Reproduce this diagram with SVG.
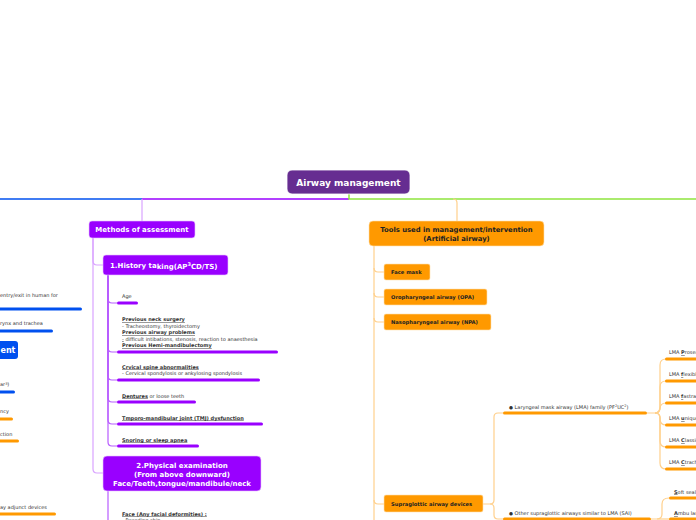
<svg xmlns="http://www.w3.org/2000/svg" width="696" height="520" viewBox="0 0 696 520">
<style>
text{font-family:"DejaVu Sans","Liberation Sans",sans-serif}
.t{font-size:5px;fill:#333}
.b{font-weight:bold;text-decoration:underline}
.nw{font-size:7px;font-weight:bold;fill:#fff}
.nk{font-size:5.2px;font-weight:bold;fill:#222}
.nt{font-size:6.8px;font-weight:bold;fill:#222}
.pb{fill:#9900ff}
.ob{fill:#ff9900}
.bb{fill:#0050ef}
.lp{fill:none;stroke:#d9a3ff;stroke-width:1.2}
.dp{fill:none;stroke:#b85cff;stroke-width:1.2}
.lo{fill:none;stroke:#ffd08c;stroke-width:1.2}
</style>
<rect width="696" height="520" fill="#fff"/>
<g id="connectors">
<path d="M142 199H0" fill="none" stroke="#0050ef" stroke-width="1.5"/>
<path d="M349 199H142" fill="none" stroke="#9900ff" stroke-width="1.5"/>
<path d="M349 194V199H696" fill="none" stroke="#8ee53f" stroke-width="1.5"/>
<path class="lp" d="M142 199V221"/>
<path class="lo" d="M453 199Q457 199 457 203V221"/>
<path class="lp" d="M93 238V261Q93 265 97 265H103"/>
<path class="lp" d="M93 238V469Q93 473 97 473H103"/>
<path class="dp" d="M108 275V299Q108 303 112 303H117"/>
<path class="dp" d="M108 275V348Q108 352 112 352H117"/>
<path class="dp" d="M108 275V376Q108 380 112 380H117"/>
<path class="dp" d="M108 275V398Q108 402 112 402H117"/>
<path class="dp" d="M108 275V420Q108 424 112 424H117"/>
<path class="dp" d="M108 275V442Q108 446 112 446H117"/>
<path class="dp" d="M108 491V520"/>
<path class="lo" d="M374 246V520"/>
<path class="lo" d="M374 268Q374 272 378 272H384"/>
<path class="lo" d="M374 293Q374 297 378 297H384"/>
<path class="lo" d="M374 318Q374 322 378 322H384"/>
<path class="lo" d="M374 500Q374 504 378 504H384"/>
<path class="lo" d="M483 504H490Q494 504 494 500V417Q494 413 498 413H503"/>
<path class="lo" d="M490 504Q494 504 494 508V515Q494 519 498 519H503"/>
<path class="lo" d="M647 413H655Q660 413 660 407V365Q660 359 666 359"/>
<path class="lo" d="M655 413Q660 413 660 407V387Q660 381 666 381"/>
<path class="lo" d="M655 413Q660 413 660 408V409Q660 403 666 403"/>
<path class="lo" d="M655 413Q660 413 660 418V419Q660 425 666 425"/>
<path class="lo" d="M655 413Q660 413 660 418V441Q660 447 666 447"/>
<path class="lo" d="M655 413Q660 413 660 418V463Q660 469 666 469"/>
<path class="lo" d="M651 519H657Q662 519 662 514V504Q662 498 669 498"/>
<path class="lo" d="M657 519H669"/>
</g>
<g id="root">
<rect x="287" y="170" width="123" height="24" rx="5" fill="#662d91" stroke="#fff" stroke-width="0.8"/>
<text x="348.5" y="185.5" text-anchor="middle" font-size="9" font-weight="bold" fill="#fff">Airway management</text>
</g>
<g id="left-branch">
<text class="t" x="0" y="297">entry/exit in human for</text>
<rect class="bb" x="-2" y="307.5" width="84" height="3" rx="1.5"/>
<text class="t" x="0" y="325">rynx and trachea</text>
<rect class="bb" x="-2" y="329.5" width="55" height="3" rx="1.5"/>
<rect x="-6" y="341" width="24" height="18" rx="3" fill="#0050ef"/>
<text x="0.5" y="353" font-size="8" font-weight="bold" fill="#fff">ent</text>
<text class="t" x="0" y="386">ar<tspan font-size="3.5" dy="-1.5">3</tspan><tspan dy="1.5">)</tspan></text>
<rect class="bb" x="-2" y="390.5" width="17" height="3" rx="1.5"/>
<text class="t" x="0" y="413">ncy</text>
<rect class="ob" x="-2" y="417.5" width="15" height="3" rx="1.5"/>
<text class="t" x="0" y="436">ction</text>
<rect class="ob" x="-2" y="439.5" width="21" height="3" rx="1.5"/>
<text class="t" x="0" y="509">ay adjunct devices</text>
<rect class="ob" x="-2" y="512.5" width="58" height="3" rx="1.5"/>
</g>
<g id="methods">
<rect x="89" y="221" width="106" height="17" rx="3" fill="#9900ff" stroke="#e8c4ff" stroke-width="0.6"/>
<text class="nw" x="142" y="232" text-anchor="middle">Methods of assessment</text>
</g>
<g id="history">
<rect x="103" y="255" width="125" height="20" rx="3" fill="#9900ff" stroke="#e8c4ff" stroke-width="0.6"/>
<text class="nw" x="110" y="268">1.History ta<tspan dy="1">king(AP</tspan><tspan font-size="5" dy="-3">3</tspan><tspan dy="3">CD/TS)</tspan></text>
</g>
<g id="hist-items">
<text class="t" x="122" y="298">Age</text>
<rect class="pb" x="117" y="301.5" width="21" height="3" rx="1.5"/>
<text class="t b" x="122" y="321">Previous neck surgery</text>
<text class="t" x="122" y="327.5">- Tracheostomy, thyroidectomy</text>
<text class="t b" x="122" y="334">Previous airway problems</text>
<text class="t" x="122" y="340.5"><tspan text-decoration="underline">-</tspan> difficult intibations, stenosis, reaction to anaesthesia</text>
<text class="t b" x="122" y="347">Previous Hemi-mandibulectomy</text>
<rect class="pb" x="117" y="350.5" width="161" height="3" rx="1.5"/>
<text class="t b" x="122" y="368.5">Crvical spine abnormalities</text>
<text class="t" x="122" y="375">- Cervical spondylosis or ankylosing spondylosis</text>
<rect class="pb" x="117" y="378.5" width="143" height="3" rx="1.5"/>
<text class="t" x="122" y="397.5"><tspan class="b">Dentures</tspan> or loose teeth</text>
<rect class="pb" x="117" y="400.5" width="79" height="3" rx="1.5"/>
<text class="t b" x="122" y="419.5">Tmporo-mandibular joint (TMJ) dysfunction</text>
<rect class="pb" x="117" y="422.5" width="146" height="3" rx="1.5"/>
<text class="t b" x="122" y="441.5">Snoring or sleep apnea</text>
<rect class="pb" x="117" y="444.5" width="82" height="3" rx="1.5"/>
</g>
<g id="physical">
<rect x="103" y="456" width="158" height="35" rx="4" fill="#9900ff" stroke="#e8c4ff" stroke-width="0.6"/>
<text class="nw" x="182" y="467.5" text-anchor="middle">2.Physical examination</text>
<text class="nw" x="182" y="476.5" text-anchor="middle">(From above downward)</text>
<text class="nw" x="182" y="485.5" text-anchor="middle">Face/Teeth,tongue/mandibule/neck</text>
</g>
<g id="phys-items">
<text class="t b" x="122" y="515.5">Face (Any facial deformities) :</text>
<text class="t" x="122" y="522">- Receding chin</text>
</g>
<g id="tools">
<rect x="369" y="221" width="175" height="25" rx="4" fill="#ff9900" stroke="#ffe0b0" stroke-width="0.6"/>
<text class="nt" x="456.5" y="232" text-anchor="middle">Tools used in  management/intervention</text>
<text class="nt" x="456.5" y="241" text-anchor="middle">(Artificial airway)</text>
</g>
<g id="face-mask">
<rect x="384" y="264" width="46" height="16" rx="2" fill="#ff9900" stroke="#ffe0b0" stroke-width="0.6"/>
<text class="nk" x="391" y="274">Face mask</text>
</g>
<g id="opa">
<rect x="384" y="289" width="103" height="16" rx="2" fill="#ff9900" stroke="#ffe0b0" stroke-width="0.6"/>
<text class="nk" x="391" y="299">Oropharyngeal airway (OPA)</text>
</g>
<g id="npa">
<rect x="384" y="314" width="107" height="16" rx="2" fill="#ff9900" stroke="#ffe0b0" stroke-width="0.6"/>
<text class="nk" x="391" y="324">Nasopharyngeal airway (NPA)</text>
</g>
<g id="supraglottic">
<rect x="384" y="495" width="99" height="17" rx="2" fill="#ff9900" stroke="#ffe0b0" stroke-width="0.6"/>
<text class="nk" x="391" y="506">Supraglottic airway devices</text>
</g>
<g id="lma">
<text class="t" x="509" y="409"><tspan font-size="4.5">●</tspan> Laryngeal mask airway (LMA) family (PF<tspan font-size="3.5" dy="-2">2</tspan><tspan dy="2">UC</tspan><tspan font-size="3.5" dy="-2">2</tspan><tspan dy="2">)</tspan></text>
<rect class="ob" x="503" y="411.5" width="144" height="3" rx="1.5"/>
<text class="t" x="509" y="515"><tspan font-size="4.5">●</tspan> Other supraglottic airways similar to LMA (SAI)</text>
<rect class="ob" x="503" y="517.5" width="148" height="3" rx="1.5"/>
</g>
<g id="lma-items">
<text class="t" x="669" y="354">LMA <tspan class="b">P</tspan>roseal</text>
<rect class="ob" x="665" y="357.5" width="35" height="3" rx="1.5"/>
<text class="t" x="669" y="376">LMA <tspan class="b">f</tspan>lexible</text>
<rect class="ob" x="665" y="379.5" width="35" height="3" rx="1.5"/>
<text class="t" x="669" y="398">LMA <tspan class="b">f</tspan>astrach</text>
<rect class="ob" x="665" y="401.5" width="35" height="3" rx="1.5"/>
<text class="t" x="669" y="420">LMA <tspan class="b">u</tspan>nique</text>
<rect class="ob" x="665" y="423.5" width="35" height="3" rx="1.5"/>
<text class="t" x="669" y="442">LMA <tspan class="b">C</tspan>lassic</text>
<rect class="ob" x="665" y="445.5" width="35" height="3" rx="1.5"/>
<text class="t" x="669" y="464">LMA <tspan class="b">C</tspan>trach</text>
<rect class="ob" x="665" y="467.5" width="35" height="3" rx="1.5"/>
</g>
<g id="sai-items">
<text class="t" x="674" y="493.5"><tspan class="b">S</tspan>oft seal</text>
<rect class="ob" x="669" y="496.5" width="31" height="3" rx="1.5"/>
<text class="t" x="674" y="515"><tspan class="b">A</tspan>mbu laryngeal mask</text>
<rect class="ob" x="669" y="517.5" width="31" height="3" rx="1.5"/>
</g>
</svg>
